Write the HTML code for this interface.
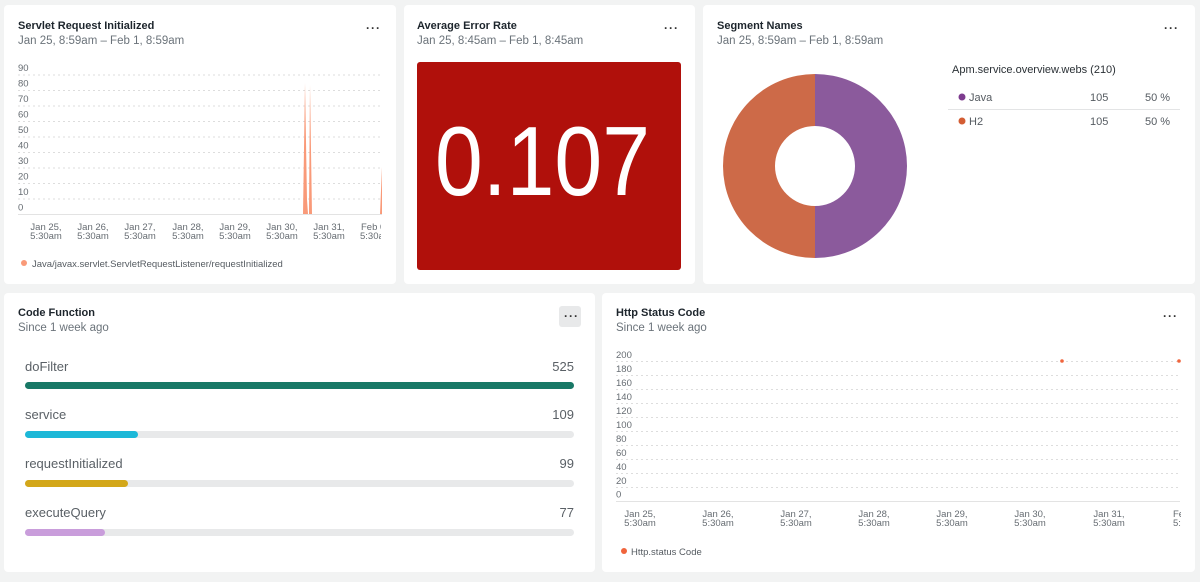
<!DOCTYPE html>
<html><head><meta charset="utf-8"><style>
*{margin:0;padding:0;box-sizing:border-box}
body{width:1200px;height:582px;background:#f2f3f3;font-family:"Liberation Sans",sans-serif;position:relative;overflow:hidden}
.p{position:absolute;background:#fff;border-radius:4px}
.t{position:absolute;font-size:11px;font-weight:bold;color:#1d252c}
.s{position:absolute;font-size:11.5px;color:#6b737a}
.d{position:absolute;font-size:12px;color:#333;font-weight:bold;letter-spacing:1px}
svg{position:absolute;left:0;top:0}
.lab{font-size:11.5px;color:#555b61;position:absolute}
</style></head><body>
<div class="p" style="left:4px;top:5px;width:392px;height:279px"></div>
<div class="p" style="left:404px;top:5px;width:291px;height:279px"></div>
<div class="p" style="left:703px;top:5px;width:492px;height:279px"></div>
<div class="p" style="left:4px;top:293px;width:591px;height:279px"></div>
<div class="p" style="left:602px;top:293px;width:593px;height:279px"></div>

<div class="t" style="left:18px;top:20px">Servlet Request Initialized</div>
<div class="s" style="left:18px;top:35px">Jan 25, 8:59am – Feb 1, 8:59am</div>
<div class="d" style="left:366px;top:21px">···</div>
<div class="t" style="left:417px;top:20px">Average Error Rate</div>
<div class="s" style="left:417px;top:35px">Jan 25, 8:45am – Feb 1, 8:45am</div>
<div class="d" style="left:664px;top:21px">···</div>
<div class="t" style="left:717px;top:20px">Segment Names</div>
<div class="s" style="left:717px;top:35px">Jan 25, 8:59am – Feb 1, 8:59am</div>
<div class="d" style="left:1164px;top:21px">···</div>
<div class="t" style="left:18px;top:307px">Code Function</div>
<div class="s" style="left:18px;top:322px">Since 1 week ago</div>
<div style="position:absolute;left:559px;top:306px;width:22px;height:21px;background:#e8e9ea;border-radius:3px"></div>
<div class="d" style="left:564px;top:309px">···</div>
<div class="t" style="left:616px;top:307px">Http Status Code</div>
<div class="s" style="left:616px;top:322px">Since 1 week ago</div>
<div class="d" style="left:1163px;top:309px">···</div>

<svg width="1200" height="582" font-family="Liberation Sans, sans-serif">
<g fill="#666c72" font-size="9.5">
<text x="18" y="71">90</text><text x="18" y="86.5">80</text><text x="18" y="102">70</text><text x="18" y="117.5">60</text><text x="18" y="133">50</text><text x="18" y="148.5">40</text><text x="18" y="164">30</text><text x="18" y="179.5">20</text><text x="18" y="195">10</text><text x="18" y="210.5">0</text>
</g>
<g stroke="#ddd" stroke-dasharray="2,3">
<line x1="18" x2="382" y1="75" y2="75"/><line x1="18" x2="382" y1="90.5" y2="90.5"/><line x1="18" x2="382" y1="106" y2="106"/><line x1="18" x2="382" y1="121.5" y2="121.5"/><line x1="18" x2="382" y1="137" y2="137"/><line x1="18" x2="382" y1="152.5" y2="152.5"/><line x1="18" x2="382" y1="168" y2="168"/><line x1="18" x2="382" y1="183.5" y2="183.5"/><line x1="18" x2="382" y1="199" y2="199"/>
</g>
<line x1="18" x2="382" y1="214.5" y2="214.5" stroke="#e3e3e3"/>
<path d="M303 214 L305 83 L307 200 L308 214 L309 214 L310 85 L312 214 Z M380 214 L382 167 L382 214 Z" fill="#f99a79"/>
<g fill="#666c72" font-size="9.5" text-anchor="middle">
<text x="46" y="230">Jan 25,</text><text x="46" y="239">5:30am</text>
<text x="93" y="230">Jan 26,</text><text x="93" y="239">5:30am</text>
<text x="140" y="230">Jan 27,</text><text x="140" y="239">5:30am</text>
<text x="188" y="230">Jan 28,</text><text x="188" y="239">5:30am</text>
<text x="235" y="230">Jan 29,</text><text x="235" y="239">5:30am</text>
<text x="282" y="230">Jan 30,</text><text x="282" y="239">5:30am</text>
<text x="329" y="230">Jan 31,</text><text x="329" y="239">5:30am</text>
</g>
<g fill="#666c72" font-size="9.5"><text x="361" y="230">Feb 0</text><text x="360" y="239">5:30a</text></g>
<rect x="381" y="220" width="15" height="25" fill="#fff"/>
<circle cx="24" cy="263" r="3" fill="#f99a79"/>
<text x="32" y="267" font-size="9.5" fill="#555b61">Java/javax.servlet.ServletRequestListener/requestInitialized</text>

<rect x="417" y="62" width="264" height="208" rx="3" fill="#b0100b"/>
<text x="435" y="195" font-size="98" fill="#fff" textLength="215" lengthAdjust="spacingAndGlyphs">0.107</text>

<path d="M815 74 A92 92 0 0 1 815 258 L815 206 A40 40 0 0 0 815 126 Z" fill="#8b5a9c"/>
<path d="M815 74 A92 92 0 0 0 815 258 L815 206 A40 40 0 0 1 815 126 Z" fill="#cd6a48"/>
<text x="952" y="73" font-size="11" fill="#2a3035">Apm.service.overview.webs (210)</text>
<circle cx="962" cy="97" r="3.5" fill="#7d3b8e"/>
<text x="969" y="101" font-size="11" fill="#555b61">Java</text>
<text x="1090" y="101" font-size="11" fill="#555b61">105</text>
<text x="1145" y="101" font-size="11" fill="#555b61">50 %</text>
<line x1="948" x2="1180" y1="109.5" y2="109.5" stroke="#e3e4e5"/>
<circle cx="962" cy="121" r="3.5" fill="#d35d33"/>
<text x="969" y="125" font-size="11" fill="#555b61">H2</text>
<text x="1090" y="125" font-size="11" fill="#555b61">105</text>
<text x="1145" y="125" font-size="11" fill="#555b61">50 %</text>

<g font-size="13" fill="#5a6066">
<text x="25" y="371">doFilter</text><text x="574" y="371" text-anchor="end">525</text>
<text x="25" y="419">service</text><text x="574" y="419" text-anchor="end">109</text>
<text x="25" y="468">requestInitialized</text><text x="574" y="468" text-anchor="end">99</text>
<text x="25" y="517">executeQuery</text><text x="574" y="517" text-anchor="end">77</text>
</g>
<g fill="#e8e9ea"><rect x="25" y="382" width="549" height="7" rx="3.5"/><rect x="25" y="431" width="549" height="7" rx="3.5"/><rect x="25" y="480" width="549" height="7" rx="3.5"/><rect x="25" y="529" width="549" height="7" rx="3.5"/></g>
<rect x="25" y="382" width="549" height="7" rx="3.5" fill="#187866"/>
<rect x="25" y="431" width="113" height="7" rx="3.5" fill="#1cb8d8"/>
<rect x="25" y="480" width="103" height="7" rx="3.5" fill="#d3a71a"/>
<rect x="25" y="529" width="80" height="7" rx="3.5" fill="#c99ddb"/>

<g fill="#666c72" font-size="9.5">
<text x="616" y="358">200</text><text x="616" y="372">180</text><text x="616" y="386">160</text><text x="616" y="400">140</text><text x="616" y="414">120</text><text x="616" y="428">100</text><text x="616" y="442">80</text><text x="616" y="456">60</text><text x="616" y="470">40</text><text x="616" y="484">20</text><text x="616" y="497.5">0</text>
</g>
<g stroke="#ddd" stroke-dasharray="2,3">
<line x1="616" x2="1180" y1="361.5" y2="361.5"/><line x1="616" x2="1180" y1="375.5" y2="375.5"/><line x1="616" x2="1180" y1="389.5" y2="389.5"/><line x1="616" x2="1180" y1="403.5" y2="403.5"/><line x1="616" x2="1180" y1="417.5" y2="417.5"/><line x1="616" x2="1180" y1="431.5" y2="431.5"/><line x1="616" x2="1180" y1="445.5" y2="445.5"/><line x1="616" x2="1180" y1="459.5" y2="459.5"/><line x1="616" x2="1180" y1="473.5" y2="473.5"/><line x1="616" x2="1180" y1="487.5" y2="487.5"/>
</g>
<line x1="616" x2="1180" y1="501.5" y2="501.5" stroke="#e3e3e3"/>
<circle cx="1062" cy="361" r="1.8" fill="#f0643c"/><circle cx="1179" cy="361" r="1.8" fill="#f0643c"/>
<g fill="#666c72" font-size="9.5" text-anchor="middle">
<text x="640" y="517">Jan 25,</text><text x="640" y="526">5:30am</text>
<text x="718" y="517">Jan 26,</text><text x="718" y="526">5:30am</text>
<text x="796" y="517">Jan 27,</text><text x="796" y="526">5:30am</text>
<text x="874" y="517">Jan 28,</text><text x="874" y="526">5:30am</text>
<text x="952" y="517">Jan 29,</text><text x="952" y="526">5:30am</text>
<text x="1030" y="517">Jan 30,</text><text x="1030" y="526">5:30am</text>
<text x="1109" y="517">Jan 31,</text><text x="1109" y="526">5:30am</text>
</g>
<g fill="#666c72" font-size="9.5"><text x="1173" y="517">Feb</text><text x="1173" y="526">5:30</text></g>
<rect x="1181" y="505" width="14" height="25" fill="#fff"/>
<circle cx="624" cy="551" r="3" fill="#f0643c"/>
<text x="631" y="555" font-size="9.5" fill="#555b61">Http.status Code</text>
</svg>
</body></html>
